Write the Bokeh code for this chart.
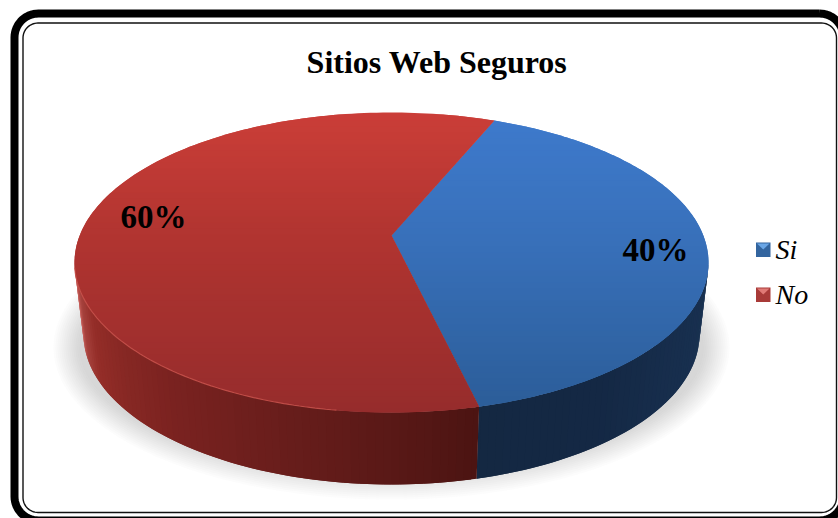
import numpy as np
from bokeh.plotting import figure
from bokeh.models import Range1d
from bokeh.embed import file_html
from bokeh.resources import INLINE

# Chart content
title_text = "Sitios Web Seguros"
categories = ["Si", "No"]
shares = [40, 60]
first_slice_start_deg = 22.6

# Pie geometry in page pixels (y grows downward)
CX, CY, RX, RY = 391.0, 262.0, 317.0, 150.0
BASE_CY, BASE_RX, BASE_RY = 334.0, 308.0, 150.0
APEX_SHIFT = 0.18  # perspective offset of the pie centre in the unit disk

TOP_RAMP = {
    "Si": ([115, 240, 400], [(62, 122, 204), (56, 112, 186), (44, 94, 154)]),
    "No": ([110, 240, 410], [(203, 62, 56), (176, 52, 48), (150, 44, 44)]),
}
WALL_XS = [74, 80, 92, 120, 170, 270, 400, 476]
WALL_RGB = [(200, 95, 90), (165, 65, 60), (148, 45, 40), (135, 40, 36), (122, 34, 32),
            (106, 30, 28), (88, 24, 22), (76, 20, 18)]


def hex_rgb(rgb):
    return "#%02x%02x%02x" % tuple(int(round(c)) for c in rgb)


def ramp(v, xs, rgbs):
    rgbs = np.array(rgbs, float)
    return hex_rgb([np.interp(v, xs, rgbs[:, i]) for i in range(3)])


def project(theta_deg):
    """Clockwise angle from the top of the disk to its position on the tilted top face."""
    th = np.radians(theta_deg)
    x, y = np.sin(th), np.cos(th)
    d = APEX_SHIFT
    den = 1 + d * y
    return CX + RX * x * np.sqrt(1 - d * d) / den, CY - RY * (y + d) / den


def clip_band(xs, ys, y0, y1):
    """Clip a polygon to a horizontal band."""
    pts = list(zip(xs, ys))
    for inside, bound in ((lambda p: p[1] >= y0, y0), (lambda p: p[1] <= y1, y1)):
        out = []
        for i, cur in enumerate(pts):
            prev = pts[i - 1]
            if inside(cur) != inside(prev):
                f = (bound - prev[1]) / (cur[1] - prev[1])
                out.append((prev[0] + f * (cur[0] - prev[0]), bound))
            if inside(cur):
                out.append(cur)
        pts = out
        if not pts:
            return [], []
    return [p[0] for p in pts], [p[1] for p in pts]


def rounded(l, t, r, b, rad):
    a = np.linspace(0, np.pi / 2, 16)
    xs = np.concatenate([r - rad + rad * np.sin(a), r - rad + rad * np.cos(a),
                         l + rad - rad * np.sin(a), l + rad - rad * np.cos(a)])
    ys = np.concatenate([t + rad - rad * np.cos(a), b - rad + rad * np.sin(a),
                         b - rad + rad * np.cos(a), t + rad - rad * np.sin(a)])
    return list(xs) + [xs[0]], list(ys) + [ys[0]]


p = figure(width=838, height=518, output_backend="svg", toolbar_location=None,
           x_range=Range1d(0, 838), y_range=Range1d(518, 0), min_border=0,
           outline_line_color=None, background_fill_color="white", border_fill_color="white")
p.axis.visible = False
p.grid.visible = False

# Frame: heavy outer stroke, thin inner stroke
fx, fy = rounded(14, 13, 843, 520, 24)
p.line(fx, fy, line_color="black", line_width=8)
fx, fy = rounded(22.5, 22.5, 836, 512, 15)
p.line(fx, fy, line_color="#111111", line_width=1.4)

# Soft ground shadow from stacked translucent ellipses
t = np.linspace(0, 2 * np.pi, 180)
for grow in np.arange(20, -8, -2.0):
    p.patch(391 + (318 + grow) * np.sin(t), 347 + (132 + grow) * np.cos(t),
            fill_color="#808080", fill_alpha=0.026, line_color=None)

# Slice boundaries from the shares
boundaries = np.cumsum([0] + shares) * 3.6 + first_slice_start_deg
bx, by = project(boundaries[1])
t_split = np.degrees(np.arctan2((bx - CX) / RX, (CY - by) / RY)) % 360

# Side wall, as overlapping strips shaded along x; each strip reaches past the next
edges = np.sort(np.append(np.linspace(90, 270, 121), t_split))
for a0, a1, a2 in zip(edges[:-2], edges[1:-1], edges[2:]):
    hi = a2 if (a0 >= t_split or a2 <= t_split) else a1
    r0, r1 = np.radians([a0, hi])
    xs = [CX + RX * np.sin(r0), CX + RX * np.sin(r1),
          CX + BASE_RX * np.sin(r1), CX + BASE_RX * np.sin(r0)]
    ys = [CY - RY * np.cos(r0), CY - RY * np.cos(r1),
          BASE_CY - BASE_RY * np.cos(r1), BASE_CY - BASE_RY * np.cos(r0)]
    mid = CX + RX * np.sin(np.radians((a0 + a1) / 2))
    if (a0 + a1) / 2 < t_split:
        col = ramp(mid, [476, 600, 708], [(20, 40, 66), (20, 40, 68), (24, 48, 80)])
    else:
        col = ramp(mid, WALL_XS, WALL_RGB)
    p.patch(xs, ys, fill_color=col, line_color=None)

# Top face, each slice split into overlapping horizontal bands for the vertical shading
for name, a0, a1 in zip(categories, boundaries[:-1], boundaries[1:]):
    ax, ay = project(np.linspace(a0, a1, 160))
    apex = (CX, CY - RY * APEX_SHIFT)
    px, py = [apex[0]] + list(ax), [apex[1]] + list(ay)
    ys_r, rgb = TOP_RAMP[name]
    for y0 in np.arange(108, 416, 6.0):
        cx, cy = clip_band(px, py, y0, y0 + 12)
        if len(cx) > 2:
            p.patch(cx, cy, fill_color=ramp(y0 + 3, ys_r, rgb), line_color=None)

# Lit rim along the lower left of the red top face
rr = np.radians(np.linspace(190, 268, 80))
p.line(CX + RX * np.sin(rr), CY - RY * np.cos(rr), line_color="#c9544e", line_width=1.2, line_alpha=0.8)

# Percentage labels
serif = "Liberation Serif"
p.text([120], [216], text=[f"{shares[1]}%"], text_font=dict(value=serif), text_font_size="33px",
       text_font_style="bold", text_color="black", text_baseline="middle", text_align="left")
p.text([622], [249], text=[f"{shares[0]}%"], text_font=dict(value=serif), text_font_size="33px",
       text_font_style="bold", text_color="black", text_baseline="middle", text_align="left")

# Title
p.text([436.5], [61], text=[title_text], text_font=dict(value=serif), text_font_size="32px",
       text_font_style="bold", text_color="black", text_baseline="middle", text_align="center")

# Legend: bevelled keys with italic labels
key_styles = {"Si": ("#33659f", "#6aa6e6"), "No": ("#a83a38", "#e07a76")}
for name, top in zip(categories, [242, 287]):
    base, light = key_styles[name]
    p.quad(left=[755.5], right=[770], top=[top], bottom=[top + 14.5], fill_color=base, line_color=None)
    p.patch([756.5, 769, 762.75], [top + 1, top + 1, top + 7], fill_color=light, line_color=None)
    p.text([775], [top + 7], text=[name], text_font=dict(value=serif), text_font_size="28px",
           text_font_style="italic", text_color="black", text_baseline="middle", text_align="left")

open("out.html", "w").write(file_html(p, INLINE))
